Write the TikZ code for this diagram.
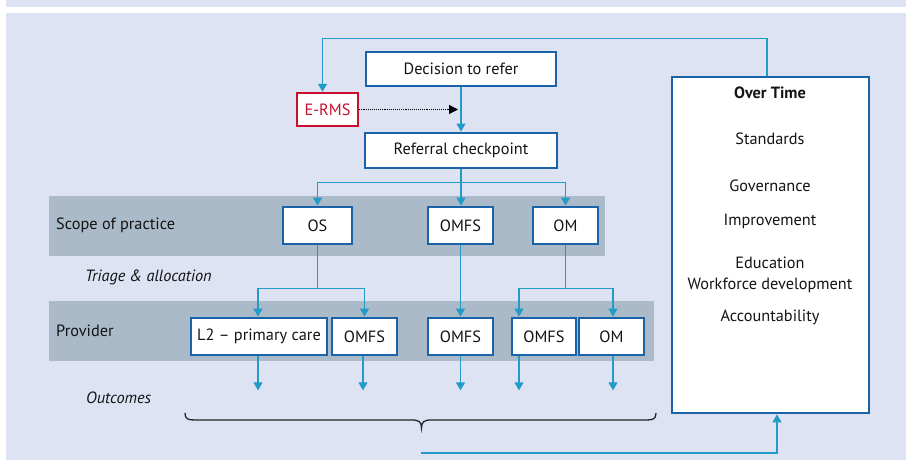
\documentclass[tikz,border=0pt]{standalone}
\usepackage{fontspec}
\setmainfont{PT Sans}
\usetikzlibrary{arrows.meta,calc}
\definecolor{bgcol}{RGB}{222,227,243}
\definecolor{bandcol}{RGB}{171,186,200}
\definecolor{boxcol}{RGB}{26,99,168}
\definecolor{linecol}{RGB}{35,155,200}
\definecolor{redcol}{RGB}{200,16,46}
\definecolor{bracecol}{RGB}{35,35,40}
\definecolor{txtcol}{RGB}{20,20,20}
\tikzset{
  box/.style={draw=boxcol, line width=2.8pt, fill=white, rectangle, inner sep=0pt,
    minimum height=37pt, text=txtcol, font=\fontsize{16.3}{19}\selectfont},
  conn/.style={draw=linecol, line width=1.4pt},
  arr/.style={conn, -{Triangle[width=9pt,length=8pt]}},
  lbl/.style={font=\fontsize{16.3}{19}\selectfont, text=txtcol, anchor=west, inner sep=0pt},
  ilbl/.style={font=\fontsize{16.3}{19}\selectfont\itshape, text=txtcol, anchor=west, inner sep=0pt},
  otxt/.style={font=\fontsize{16.3}{19}\selectfont, text=txtcol, inner sep=0pt},
}
\begin{document}
\begin{tikzpicture}[x=1pt,y=-1pt]
\useasboundingbox (0,0) rectangle (906,460);
\fill[white] (0,0) rectangle (906,460);
\fill[bgcol] (6,0) rectangle (906,460);
\fill[white] (6,7) rectangle (906,13);
% bands
\fill[bandcol] (49,196) rectangle (605,256);
\fill[bandcol] (49,301) rectangle (654,361);
\node[lbl] (scope) at (56,225) {Scope of practice};
\node[ilbl] (triage) at (85,277) {Triage \& allocation};
\node[lbl] (prov) at (56,331) {Provider};
\node[ilbl] (outc) at (86,398) {Outcomes};
% top nodes
\node[box, minimum width=190pt, minimum height=34pt] (dec) at (461,69) {Decision to refer};
\node[box, draw=redcol, line width=2.4pt, minimum width=61pt, minimum height=33pt, text=redcol] (erms) at (327.5,109.5) {E-RMS};
\node[box, minimum width=192pt, minimum height=35pt] (ref) at (461,150.5) {Referral checkpoint};
% scope nodes
\node[box, minimum width=69pt] (os) at (317.5,225.5) {OS};
\node[box, minimum width=65pt] (omfsA) at (460.5,225.5) {OMFS};
\node[box, minimum width=65pt] (omA) at (565.5,225.5) {OM};
% provider nodes
\node[box, minimum width=136pt] (l2) at (259,336.5) {L2 -- primary care};
\node[box, minimum width=65pt] (omfs1) at (364.5,336.5) {OMFS};
\node[box, minimum width=65pt] (omfs2) at (460.5,336.5) {OMFS};
\node[box, minimum width=64pt] (omfs3) at (544,336.5) {OMFS};
\node[box, minimum width=65pt] (om2) at (611.5,336.5) {OM};
% over time box
\node[box, minimum width=197pt, minimum height=336pt] (over) at (770.5,245) {};
\node[otxt, font=\fontsize{16.3}{19}\selectfont\bfseries] (t0) at (770,93) {Over Time};
\node[otxt] (t1) at (770,139) {Standards};
\node[otxt] (t2) at (770,186) {Governance};
\node[otxt] (t3) at (770,221) {Improvement};
\node[otxt] (t4) at (770,263) {Education};
\node[otxt] (t5) at (770,285) {Workforce development};
\node[otxt] (t6) at (770,317) {Accountability};
% connectors
\draw[arr] ([xshift=-3.5pt]over.north) -- ++(0,-37) -| ([xshift=-5pt]erms.north);
\draw[arr] (dec.south) -- (ref.north);
\coordinate (dotend) at (458,109.5);
\draw[densely dotted, line width=1.1pt, -{Triangle[width=9pt,length=9pt]}] (erms.east) -- (dotend);
\draw[conn] (ref.south) -- ++(0,13) coordinate (jr);
\draw[arr] (jr) -| (os.north);
\draw[arr] (jr) -| (omA.north);
\draw[arr] (jr) -- (jr |- omfsA.north);
\draw[conn] (os.south) -- ++(0,43) coordinate (jos);
\draw[arr] (jos) -| ([xshift=-1pt]l2.north);
\draw[arr] (jos) -| (omfs1.north);
\draw[arr] (omfsA.south) -- (omfs2.north);
\draw[conn] (omA.south) -- ++(0,43) coordinate (jom);
\draw[arr] (jom) -| ([xshift=-25pt]omfs3.north);
\draw[arr] (jom) -| ([xshift=1.5pt]om2.north);
% outcome arrows
\draw[arr] ([xshift=-1pt]l2.south) -- ++(0,34);
\draw[arr] ([xshift=-1.5pt]omfs1.south) -- ++(0,34);
\draw[arr] (omfs2.south) -- ++(0,34);
\draw[arr] ([xshift=-25pt]omfs3.south) -- ++(0,34);
\draw[arr] ([xshift=1.5pt]om2.south) -- ++(0,34);
% brace
\draw[bracecol, line width=1.3pt] (185,413) .. controls (185,419) and (188,420) .. (195,420)
  -- (412,420) .. controls (419,420) and (421.5,422) .. (421.5,428)
  .. controls (421.5,422) and (424,420) .. (431,420) -- (646,420)
  .. controls (653,420) and (656,419) .. (656,413);
% bottom feedback
\coordinate (bs) at (421,453);
\draw[arr] (bs) -| ([xshift=6.5pt]over.south);
\end{tikzpicture}
\end{document}
